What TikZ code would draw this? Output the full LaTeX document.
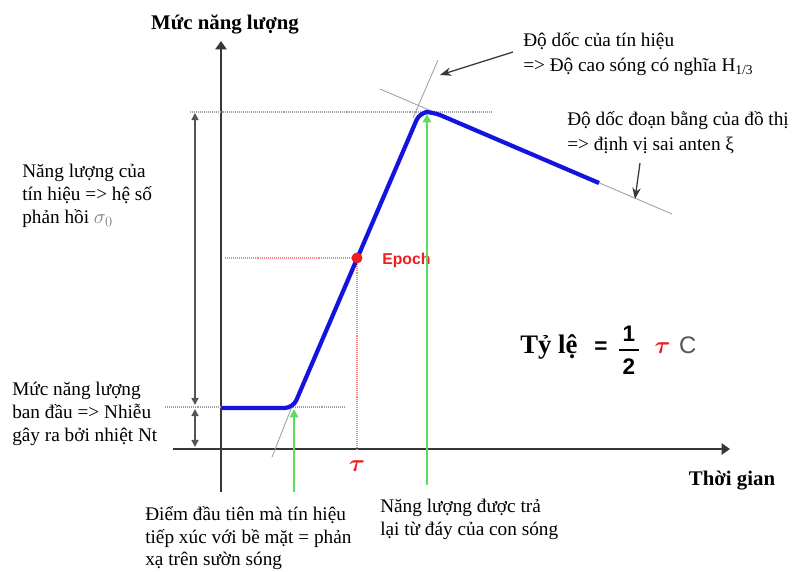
\documentclass[tikz,border=0pt]{standalone}
\usepackage{amsmath}
\usepackage{fontspec}
\setmainfont{Liberation Serif}
\setsansfont{Liberation Sans}
\usetikzlibrary{arrows.meta, positioning}
\definecolor{curveblue}{RGB}{20,20,225}
\definecolor{markred}{RGB}{240,30,30}
\definecolor{arrowgreen}{RGB}{95,220,95}
\definecolor{axisgray}{RGB}{55,55,55}

\begin{document}
\begin{tikzpicture}[x=0.025cm, y=-0.025cm,
        axis/.style={draw=axisgray, line width=1.6pt, -{Triangle[length=6pt, width=8pt]}},
        dimarr/.style={draw=axisgray!85, line width=1.1pt, {Triangle[length=5pt, width=5pt]}-{Triangle[length=5pt, width=5pt]}},
        guide/.style={draw=gray!75, line width=0.6pt},
        level/.style={draw=gray!75, line width=0.9pt, dash pattern=on 0.7pt off 0.7pt},
        redline/.style={draw=markred!55, line width=0.8pt, dash pattern=on 0.7pt off 0.7pt},
        signal/.style={draw=curveblue, line width=3pt, rounded corners=6pt},
        ptr/.style={draw=axisgray, line width=0.9pt, -{Stealth[length=8pt, width=6pt]}},
        grn/.style={draw=arrowgreen, line width=1.2pt, -{Triangle[length=6pt, width=6pt]}},
        lbl/.style={font=\fontsize{13.7}{16.2}\selectfont, align=left, anchor=north west, inner sep=0pt},
        lbltop/.style={lbl, font=\fontsize{13.7}{17.8}\selectfont},
        title/.style={font=\fontsize{14.8}{17}\selectfont\bfseries, inner sep=0pt},
        dot/.style={circle, fill=markred, minimum size=7.6pt, inner sep=0pt},
    ]
    \useasboundingbox (0,0) rectangle (803,572);

    % Axes
    \coordinate (yb) at (221,492);
    \coordinate (yt) at (221,41);
    \coordinate (xl) at (173,449);
    \coordinate (xr) at (730,449);
    \draw[axis] (yb) -- (yt);
    \draw[axis] (xl) -- (xr);
    \node[title] (ylabel) at (225,24) {Mức năng lượng};
    \node[title] (xlabel) at (732,481) {Thời gian};

    % Levels
    \coordinate (low w) at (165,407);
    \coordinate (low e) at (345,407);
    \coordinate (top w) at (190,112);
    \coordinate (top e) at (492,112);
    \draw[level] (low w) -- (low e);
    \draw[level] (top w) -- (top e);

    % Dimension arrows
    \coordinate (d1t) at (195,113);
    \coordinate (d1b) at (195,405);
    \coordinate (d2t) at (195,409);
    \coordinate (d2b) at (195,447);
    \draw[dimarr] (d1b) -- (d1t);
    \draw[dimarr] (d2t) -- (d2b);

    % Tangent lines
    \coordinate (t0a) at (272,457);
    \coordinate (t0b) at (293,404);
    \coordinate (t1a) at (413,118);
    \coordinate (t1b) at (438,60);
    \coordinate (t2a) at (380,89);
    \coordinate (t2b) at (672,214);
    \draw[guide] (t0a) -- (t0b);
    \draw[guide] (t1a) -- (t1b);
    \draw[guide] (t2a) -- (t2b);

    % Epoch
    \node[dot] (epoch) at (357,258) {};
    \coordinate (ep w) at (225,258);
    \coordinate (ep s) at (357,449);
    \draw[redline] (ep w) -- (epoch) -- (ep s);

    % Waveform
    \coordinate (s0) at (222,408);
    \coordinate (s1) at (293,408);
    \coordinate (s2) at (420,112);
    \coordinate (s3) at (433,112);
    \coordinate (s4) at (599,183);
    \draw[signal] (s0) -- (s1) -- (s2) -- (s3) -- (s4);
    \node[dot] (epoch) at (357,258) {};
    \node[font=\sffamily\bfseries\fontsize{11.2}{13}\selectfont, text=markred, anchor=west, inner sep=0pt] (epochlbl) at (382,260) {Epoch};
    \node[text=markred, font=\fontsize{16}{18}\selectfont, inner sep=0pt] (taulbl) at (357,466) {$\boldsymbol{\tau}$};

    % Green markers
    \coordinate (g1b) at (294,492);
    \coordinate (g1t) at (294,409);
    \coordinate (g2b) at (427,485);
    \coordinate (g2t) at (427,114);
    \draw[grn] (g1b) -- (g1t);
    \draw[grn] (g2b) -- (g2t);

    % Labels
    \node[lbl] (echo) at (22,164) {Năng lượng của\\tín hiệu => hệ số\\phản hồi {\color{gray}$\sigma_0$}};
    \node[lbl] (noise) at (12,382) {Mức năng lượng\\ban đầu => Nhiễu\\gây ra bởi nhiệt Nt};
    \node[lbl] (first) at (145,506) {Điểm đầu tiên mà tín hiệu\\tiếp xúc với bề mặt = phản\\xạ trên sườn sóng};
    \node[lbl] (trough) at (380,499) {Năng lượng được trả\\lại từ đáy của con sóng};
    \node[lbltop] (slope) at (523,32) {Độ dốc của tín hiệu\\=> Độ cao sóng có nghĩa H\textsubscript{1/3}};
    \node[lbltop] (tail) at (567,111) {Độ dốc đoạn bằng của đồ thị\\=> định vị sai anten ξ};

    % Pointers
    \coordinate (p1s) at (513,52);
    \coordinate (p1e) at (440,75);
    \coordinate (p2s) at (640,163);
    \coordinate (p2e) at (635,199);
    \draw[ptr] (p1s) -- (p1e);
    \draw[ptr] (p2s) -- (p2e);

    % Ratio
    \node[anchor=west, inner sep=0pt] (ratio) at (520,350) {%
        {\fontsize{19}{22}\selectfont\bfseries Tỷ lệ}\hspace{12pt}%
        {\sffamily\bfseries\fontsize{16}{18}\selectfont =}\hspace{7pt}%
        $\genfrac{}{}{1.8pt}{0}{\text{\sffamily\bfseries\fontsize{16}{18}\selectfont\,1\,}}{\text{\sffamily\bfseries\fontsize{16}{18}\selectfont\,2\,}}$\hspace{10pt}%
        {\color{markred}\fontsize{19}{22}\selectfont$\boldsymbol{\tau}$}\hspace{6pt}%
        {\color{axisgray!85}\sffamily\fontsize{17}{20}\selectfont C}};
\end{tikzpicture}
\end{document}
